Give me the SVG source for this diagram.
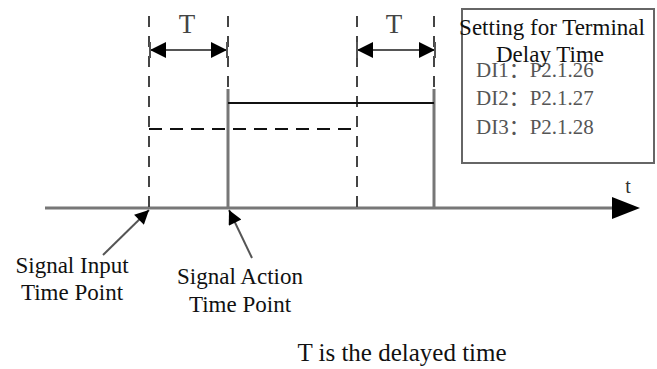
<svg xmlns="http://www.w3.org/2000/svg" width="657" height="369" viewBox="0 0 657 369">
<style>
.txt{font-family:"Liberation Serif","Times New Roman",serif;fill:#111}
.di{font-family:"Liberation Serif","Noto Sans CJK SC",serif;fill:#555;font-size:21px}
.dash{stroke:#444;stroke-width:2;stroke-dasharray:11,9;fill:none}
.gray{stroke:#777;stroke-width:3;fill:none}
.thin{stroke:#555;stroke-width:2;fill:none}
</style>
<defs>
<marker id="ah" viewBox="0 0 10 10" refX="10" refY="5" markerWidth="17" markerHeight="16" markerUnits="userSpaceOnUse" orient="auto-start-reverse">
<path d="M0,0 L10,5 L0,10 z" fill="#000"/>
</marker>
<marker id="ah2" viewBox="0 0 10 10" refX="10" refY="5" markerWidth="18" markerHeight="14" markerUnits="userSpaceOnUse" orient="auto">
<path d="M0,0 L10,5 L0,10 z" fill="#000"/>
</marker>
</defs>
<g id="connectors">
<line x1="45" y1="208" x2="614" y2="208" class="gray"/>
<path d="M612,197 L640,208 L612,219 z" fill="#000"/>
<line x1="149" y1="16" x2="149" y2="208" class="dash"/>
<line x1="357" y1="16" x2="357" y2="208" class="dash"/>
<line x1="228" y1="16" x2="228" y2="89" class="dash"/>
<line x1="434" y1="16" x2="434" y2="89" class="dash"/>
<line x1="228" y1="89" x2="228" y2="208" class="gray"/>
<line x1="434" y1="89" x2="434" y2="208" class="gray"/>
<line x1="228" y1="103" x2="434" y2="103" stroke="#111" stroke-width="2"/>
<line x1="149" y1="129" x2="357" y2="129" stroke="#111" stroke-width="2" stroke-dasharray="13,8"/>
<line x1="150" y1="50" x2="227" y2="50" class="thin" marker-start="url(#ah)" marker-end="url(#ah)"/>
<line x1="150" y1="42" x2="150" y2="58" class="thin"/>
<line x1="227" y1="42" x2="227" y2="58" class="thin"/>
<line x1="357" y1="50" x2="435" y2="50" class="thin" marker-start="url(#ah)" marker-end="url(#ah)"/>
<line x1="357" y1="42" x2="357" y2="58" class="thin"/>
<line x1="435" y1="42" x2="435" y2="58" class="thin"/>
<line x1="103" y1="255" x2="149" y2="210" class="thin" marker-end="url(#ah2)"/>
<line x1="252" y1="258" x2="229" y2="210" class="thin" marker-end="url(#ah2)"/>
</g>
<g id="labels">
<text x="187" y="33" class="txt" font-size="27" text-anchor="middle" style="fill:#444">T</text>
<text x="394" y="33" class="txt" font-size="27" text-anchor="middle" style="fill:#444">T</text>
<text x="628" y="193" class="txt" font-size="20" text-anchor="middle" style="fill:#333">t</text>
<text x="72" y="273" class="txt" font-size="23" text-anchor="middle">Signal Input</text>
<text x="72" y="300" class="txt" font-size="23" text-anchor="middle">Time Point</text>
<text x="240" y="284" class="txt" font-size="23" text-anchor="middle">Signal Action</text>
<text x="240" y="312" class="txt" font-size="23" text-anchor="middle">Time Point</text>
<text x="402" y="361" class="txt" font-size="25" text-anchor="middle">T is the delayed time</text>
</g>
<g id="setting-box">
<rect x="462" y="9" width="192" height="154" fill="#fff" stroke="#666" stroke-width="2"/>
<text x="476" y="77" class="di">DI1：P2.1.26</text>
<text x="476" y="105" class="di">DI2：P2.1.27</text>
<text x="476" y="134" class="di">DI3：P2.1.28</text>
<text x="552" y="35" class="txt" font-size="23" text-anchor="middle">Setting for Terminal</text>
<text x="550" y="62" class="txt" font-size="23" text-anchor="middle">Delay Time</text>
</g>
</svg>
